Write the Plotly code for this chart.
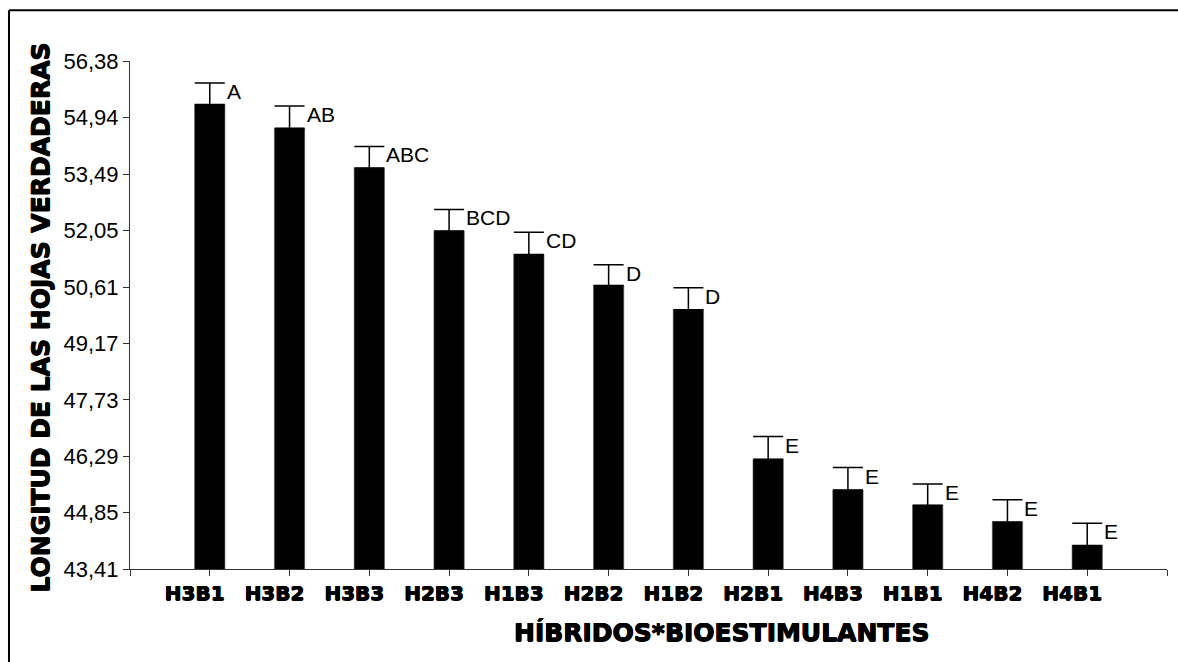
import plotly.graph_objects as go

# Hybrid x biostimulant combinations, sorted by mean leaf length
hibridos = ["H3B1", "H3B2", "H3B3", "H2B3", "H1B3", "H2B2",
            "H1B2", "H2B1", "H4B3", "H1B1", "H4B2", "H4B1"]
longitud = [55.27, 54.66, 53.65, 52.04, 51.44, 50.65,
            50.03, 46.21, 45.43, 45.04, 44.61, 44.01]
error = [0.55, 0.57, 0.55, 0.55, 0.57, 0.53,
         0.56, 0.58, 0.57, 0.54, 0.57, 0.57]
letras = ["A", "AB", "ABC", "BCD", "CD", "D", "D", "E", "E", "E", "E", "E"]

y_ticks = [43.41, 44.85, 46.29, 47.73, 49.17, 50.61, 52.05, 53.49, 54.94, 56.38]

posiciones = list(range(len(hibridos)))

# Heavy lettering for the category labels and axis titles
heavy = "0.5px 0 0 black, -0.5px 0 0 black, 0 0.5px 0 black, 0 -0.5px 0 black"

fig = go.Figure()
fig.add_trace(go.Bar(
    x=posiciones,
    y=longitud,
    width=0.38,
    marker=dict(color="black", line=dict(color="#555555", width=0.6)),
    error_y=dict(type="data", array=error, arrayminus=[0] * len(error),
                 symmetric=False, color="black", thickness=1.5, width=15),
    showlegend=False,
))

# Significance letters beside each error-bar cap
for i, (m, e, t) in enumerate(zip(longitud, error, letras)):
    fig.add_annotation(x=i, y=m + e, text=t, showarrow=False,
                       xanchor="left", yanchor="top", xshift=15, yshift=5,
                       font=dict(family="Liberation Sans, Arial", size=21, color="black"))

# Axis titles
fig.add_annotation(xref="paper", yref="paper", x=0.570, y=-0.125,
                   text="HÍBRIDOS*BIOESTIMULANTES", showarrow=False,
                   xanchor="center", yanchor="middle",
                   font=dict(family="DejaVu Sans", size=25, color="black",
                             weight="bold", shadow=heavy))
fig.add_annotation(xref="paper", yref="paper", x=-0.0858, y=0.495,
                   text="LONGITUD DE LAS HOJAS VERDADERAS", showarrow=False,
                   textangle=-90, xanchor="center", yanchor="middle",
                   font=dict(family="DejaVu Sans", size=25, color="black",
                             weight="bold", shadow=heavy))

# Frame around the chart (left and top edges)
fig.add_shape(type="line", xref="paper", yref="paper",
              x0=-0.1167, x1=-0.1167, y0=1.0998, y1=-0.3,
              line=dict(color="black", width=2))
fig.add_shape(type="line", xref="paper", yref="paper",
              x0=-0.1167, x1=1.1, y0=1.0998, y1=1.0998,
              line=dict(color="black", width=2))

fig.update_layout(
    width=1178, height=662,
    margin=dict(l=130, r=11, t=61, b=93),
    paper_bgcolor="white", plot_bgcolor="white",
    separators=",.",
    bargap=0.6,
)
fig.update_xaxes(
    range=[-1, 12],
    tickmode="array",
    tickvals=[-1] + posiciones + [12],
    ticktext=[""] + hibridos + [""],
    ticks="outside", ticklen=6, tickcolor="#333333", tickwidth=1,
    ticklabelshift=-15,
    showline=True, linecolor="#333333", linewidth=1.2,
    showgrid=False, zeroline=False,
    tickfont=dict(family="DejaVu Sans", size=20, color="black",
                  weight="bold", shadow=heavy),
)
fig.update_yaxes(
    range=[43.41, 56.38],
    tickmode="array",
    tickvals=y_ticks,
    tickformat=".2f",
    ticks="outside", ticklen=6, tickcolor="#333333", tickwidth=1,
    showline=True, linecolor="#333333", linewidth=1.2,
    showgrid=False, zeroline=False,
    tickfont=dict(family="Liberation Sans, Arial", size=22, color="black"),
)

fig.write_html("out.html")
